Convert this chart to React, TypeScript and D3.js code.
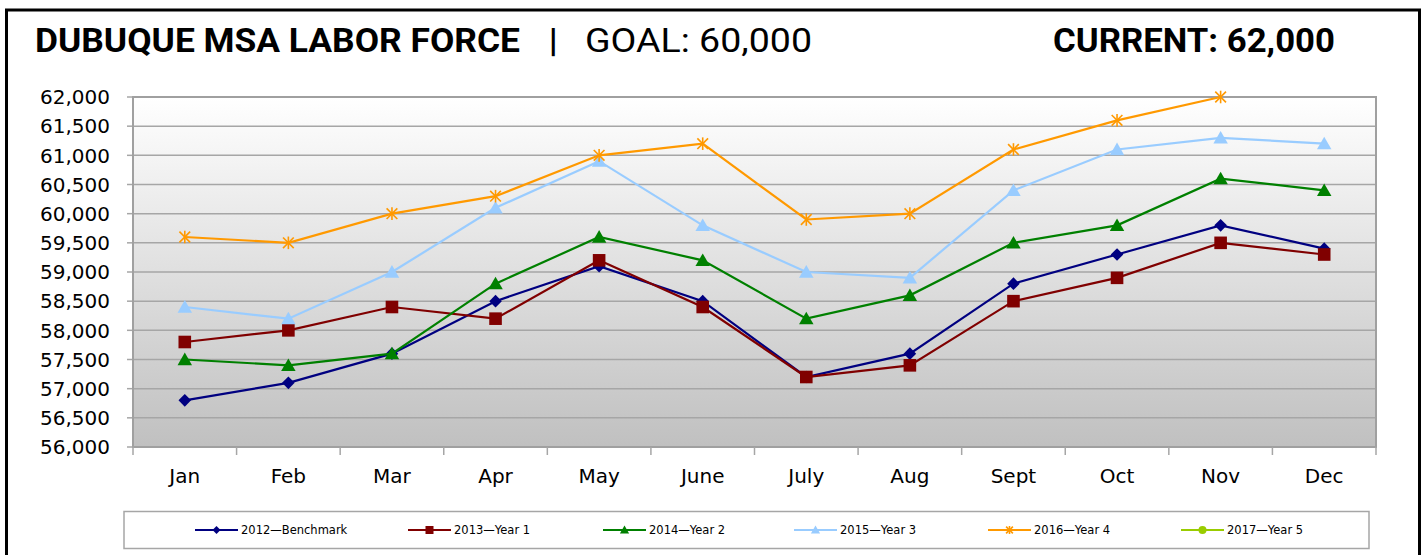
import React from "react";
import * as d3 from "d3";

const months = ["Jan", "Feb", "Mar", "Apr", "May", "June", "July", "Aug", "Sept", "Oct", "Nov", "Dec"];
const yTicks = [56000, 56500, 57000, 57500, 58000, 58500, 59000, 59500, 60000, 60500, 61000, 61500, 62000];

const s2012 = [56800, 57100, 57600, 58500, 59100, 58500, 57200, 57600, 58800, 59300, 59800, 59400];
const s2013 = [57800, 58000, 58400, 58200, 59200, 58400, 57200, 57400, 58500, 58900, 59500, 59300];
const s2014 = [57500, 57400, 57600, 58800, 59600, 59200, 58200, 58600, 59500, 59800, 60600, 60400];
const s2015 = [58400, 58200, 59000, 60100, 60900, 59800, 59000, 58900, 60400, 61100, 61300, 61200];
const s2016 = [59600, 59500, 60000, 60300, 61000, 61200, 59900, 60000, 61100, 61600, 62000, null];
const s2017: (number | null)[] = [null, null, null, null, null, null, null, null, null, null, null, null];

const seriesNames = ["2012\u2014Benchmark", "2013\u2014Year 1", "2014\u2014Year 2", "2015\u2014Year 3", "2016\u2014Year 4", "2017\u2014Year 5"];
const seriesColors = ["#000080", "#800000", "#008000", "#99CCFF", "#FF9900", "#99CC00"];
const seriesMarkers = ["diamond", "square", "triangle", "triangle", "star", "circle"];
const seriesData = [s2012, s2013, s2014, s2015, s2016, s2017];

const W = 1425;
const H = 555;
const plot = { left: 133, right: 1376, top: 97, bottom: 447 };
const legendX = [195, 408, 603, 794, 988, 1181];

function Marker({ type, x, y, color, size }: { type: string; x: number; y: number; color: string; size: number }) {
  const s = size;
  if (type === "diamond") {
    return <path d={`M${x},${y - s}L${x + s},${y}L${x},${y + s}L${x - s},${y}Z`} fill={color} />;
  }
  if (type === "square") {
    return <rect x={x - s} y={y - s} width={2 * s} height={2 * s} fill={color} />;
  }
  if (type === "triangle") {
    return <path d={`M${x},${y - s * 1.1}L${x + s * 1.15},${y + s * 0.9}L${x - s * 1.15},${y + s * 0.9}Z`} fill={color} />;
  }
  if (type === "star") {
    const d = s * 0.85;
    return (
      <g stroke={color} strokeWidth={1.6}>
        <line x1={x} y1={y - s} x2={x} y2={y + s} />
        <line x1={x - d} y1={y - d} x2={x + d} y2={y + d} />
        <line x1={x - d} y1={y + d} x2={x + d} y2={y - d} />
      </g>
    );
  }
  return <circle cx={x} cy={y} r={s} fill={color} />;
}

export default function App() {
  const x = d3.scaleBand<string>().domain(months).range([plot.left, plot.right]).padding(0);
  const y = d3.scaleLinear().domain([56000, 62000]).range([plot.bottom, plot.top]);
  const cx = (m: string) => (x(m) as number) + x.bandwidth() / 2;
  const fmt = d3.format(",");
  const font = "'DejaVu Sans', sans-serif";
  const titleFont = "Roboto, 'DejaVu Sans', sans-serif";

  const line = d3
    .line<number | null>()
    .defined((d) => d != null)
    .x((_, i) => cx(months[i]))
    .y((d) => y(d as number));

  const boundaries = d3.range(months.length + 1).map((i) => plot.left + i * x.bandwidth());

  return (
    <svg width={W} height={H} style={{ position: "absolute", left: 0, top: 0, background: "#fff" }}>
      <defs>
        <linearGradient id="bg" x1="0" y1="0" x2="0" y2="1">
          <stop offset="0" stopColor="#ffffff" />
          <stop offset="1" stopColor="#c0c0c0" />
        </linearGradient>
      </defs>
      <rect x={6.5} y={10} width={1413} height={560} fill="#fff" stroke="#000" strokeWidth={3} />

      {/* Title */}
      <text x={35} y={52} fontFamily={titleFont} fontWeight={700} fontSize={33} textLength={485} lengthAdjust="spacingAndGlyphs" fill="#000">
        DUBUQUE MSA LABOR FORCE
      </text>
      <text x={549} y={52} fontFamily={titleFont} fontWeight={900} fontSize={33} fill="#000">|</text>
      <text x={585} y={52} fontFamily={titleFont} fontWeight={400} fontSize={33} textLength={227} lengthAdjust="spacingAndGlyphs" fill="#000">
        GOAL: 60,000
      </text>
      <text x={1053} y={52} fontFamily={titleFont} fontWeight={700} fontSize={33} textLength={282} lengthAdjust="spacingAndGlyphs" fill="#000">
        CURRENT: 62,000
      </text>

      {/* Plot area */}
      <rect x={plot.left} y={plot.top} width={plot.right - plot.left} height={plot.bottom - plot.top} fill="url(#bg)" />
      {yTicks.map((t) => (
        <g key={t}>
          <line x1={plot.left} x2={plot.right} y1={y(t)} y2={y(t)} stroke="#a6a6a6" strokeWidth={1.5} />
          <line x1={plot.left - 6} x2={plot.left} y1={y(t)} y2={y(t)} stroke="#a6a6a6" strokeWidth={1.5} />
          <text x={110} y={y(t)} dy="0.36em" textAnchor="end" fontFamily={font} fontSize={20} fill="#000">
            {fmt(t)}
          </text>
        </g>
      ))}
      <rect x={plot.left} y={plot.top} width={plot.right - plot.left} height={plot.bottom - plot.top} fill="none" stroke="#a0a0a0" strokeWidth={2} />
      {boundaries.map((b, i) => (
        <line key={i} x1={b} x2={b} y1={plot.bottom} y2={plot.bottom + 8} stroke="#a6a6a6" strokeWidth={1.5} />
      ))}
      {months.map((m) => (
        <text key={m} x={cx(m)} y={483} textAnchor="middle" fontFamily={font} fontSize={20} fill="#000">
          {m}
        </text>
      ))}

      {/* Series */}
      {seriesData.map((data, si) => (
        <g key={si}>
          <path d={line(data) || ""} fill="none" stroke={seriesColors[si]} strokeWidth={2.2} />
          {data.map((v, i) =>
            v == null ? null : (
              <Marker key={i} type={seriesMarkers[si]} x={cx(months[i])} y={y(v)} color={seriesColors[si]} size={6.3} />
            )
          )}
        </g>
      ))}

      {/* Legend */}
      <rect x={124} y={511.5} width={1245} height={37} fill="#fff" stroke="#a6a6a6" strokeWidth={1.5} />
      {seriesNames.map((name, i) => (
        <g key={name}>
          <line x1={legendX[i]} x2={legendX[i] + 43} y1={530} y2={530} stroke={seriesColors[i]} strokeWidth={2.2} />
          <Marker type={seriesMarkers[i]} x={legendX[i] + 21.5} y={530} color={seriesColors[i]} size={4} />
          <text x={legendX[i] + 46} y={530} dy="0.35em" fontFamily={font} fontSize={11.5} fill="#000">
            {name}
          </text>
        </g>
      ))}
    </svg>
  );
}
